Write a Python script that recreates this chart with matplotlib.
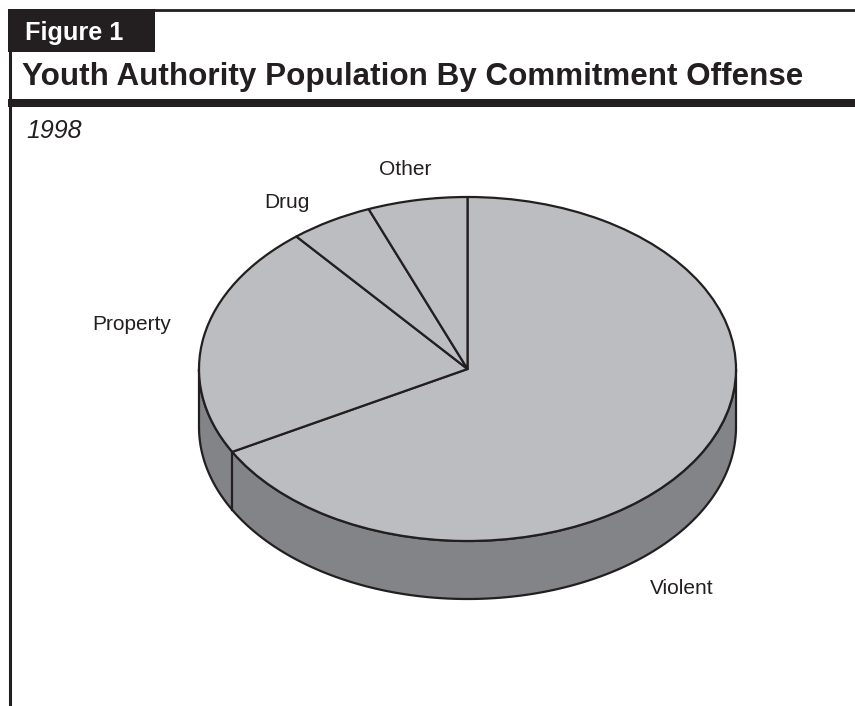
import numpy as np
import matplotlib
matplotlib.use("Agg")
import matplotlib.pyplot as plt
from matplotlib.patches import Wedge, Polygon, Rectangle
from matplotlib.transforms import Affine2D

# Commitment offense shares (percent), 1998
categories = ["Violent", "Property", "Drug", "Other"]
shares = [67, 22, 5, 6]

TITLE = "Youth Authority Population By Commitment Offense"
FIG_LABEL = "Figure 1"
SUBTITLE = "1998"

INK = "#231f20"
TOP_GREY = "#bcbdc0"
SIDE_GREY = "#838488"

W, H = 855, 706
fig = plt.figure(figsize=(W / 100, H / 100), dpi=100)
ax = fig.add_axes([0, 0, 1, 1])
ax.set_xlim(0, W)
ax.set_ylim(H, 0)
ax.axis("off")
plt.rcParams["font.family"] = ["Liberation Sans", "DejaVu Sans"]

# ---- frame and header ----
ax.add_patch(Rectangle((8, 9), 147, 43, facecolor=INK, edgecolor="none"))
ax.plot([8, W], [9.8, 9.8], color=INK, lw=2.0, solid_capstyle="butt")
ax.plot([9.5, 9.5], [9, H], color=INK, lw=2.2, solid_capstyle="butt")
ax.add_patch(Rectangle((8, 99), W - 8, 8, facecolor=INK, edgecolor="none"))
ax.text(24.5, 40, FIG_LABEL, color="white", fontsize=18.2, fontweight="bold",
        ha="left", va="baseline")
ax.text(22, 85, TITLE, color=INK, fontsize=22.6, fontweight="bold",
        ha="left", va="baseline")
ax.text(26, 138, SUBTITLE, color=INK, fontsize=18, fontstyle="italic",
        ha="left", va="baseline")

# ---- 3D pie ----
cx, cy, a, b, depth = 467.5, 369.0, 268.5, 172.0, 58.0
ell = Affine2D().scale(a, -b).translate(cx, cy) + ax.transData

fracs = np.array(shares, dtype=float) / np.sum(shares)
spans = fracs * 360.0
ends = 90.0 - np.concatenate([[0.0], np.cumsum(spans)[:-1]])
starts = ends - spans

# visible side wall (front half of the disc)
t = np.radians(np.linspace(180, 360, 200))
top_x, top_y = cx + a * np.cos(t), cy - b * np.sin(t)
side = np.column_stack([np.concatenate([top_x, top_x[::-1]]),
                        np.concatenate([top_y, top_y[::-1] + depth])])
ax.add_patch(Polygon(side, closed=True, facecolor=SIDE_GREY, edgecolor=INK,
                     lw=1.6, joinstyle="round"))

# vertical seams where slice boundaries cross the front wall
for ang in starts:
    ang_n = ang % 360
    if 180 < ang_n < 360:
        r = np.radians(ang_n)
        x0, y0 = cx + a * np.cos(r), cy - b * np.sin(r)
        ax.plot([x0, x0], [y0, y0 + depth], color=INK, lw=1.6)

# top face slices
for s, e in zip(starts, ends):
    ax.add_patch(Wedge((0, 0), 1.0, s, e, facecolor=TOP_GREY, edgecolor=INK,
                       lw=1.6, joinstyle="round", transform=ell))

# slice labels
label_pos = {"Violent": (650, 594), "Property": (92, 330),
             "Drug": (264, 208), "Other": (379, 175)}
for name in categories:
    x, y = label_pos[name]
    ax.text(x, y, name, color=INK, fontsize=15, ha="left", va="baseline")

fig.savefig("out.png", dpi=100, facecolor="white")
